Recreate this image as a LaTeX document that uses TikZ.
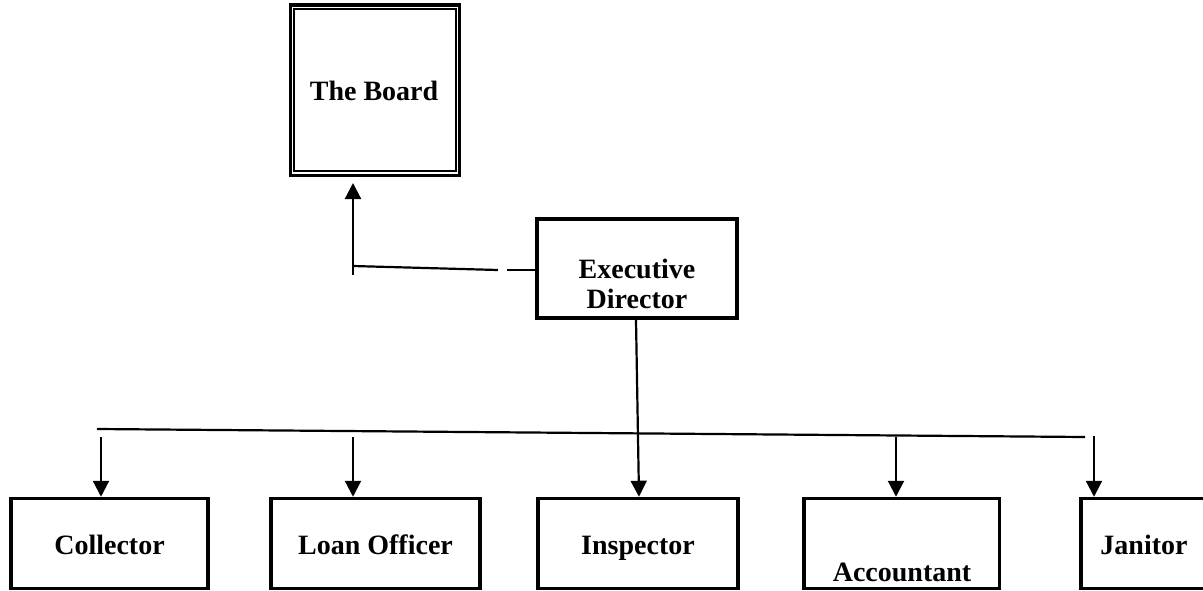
\documentclass[tikz,border=0pt]{standalone}
\usepackage{fontspec}
\setmainfont{Liberation Serif}
\usetikzlibrary{arrows.meta,calc}
\begin{document}
\begin{tikzpicture}[x=1pt,y=-1pt,
  box/.style={draw,line width=3.5pt,inner sep=0pt},
  lbl/.style={font=\fontsize{28}{32}\selectfont\bfseries,inner sep=0pt,anchor=base},
  conn/.style={line width=2.2pt},
  arr/.style={line width=2.2pt,-{Triangle[length=16pt,width=16pt]}}]
\useasboundingbox (0,0) rectangle (1203,590);
% The Board (thick-thin double border)
\node[box,minimum width=169,minimum height=170.5] (board) at (375,90.25) {};
\draw[line width=1.6pt] ($(board.north west)+(5.5,5.5)$) rectangle ($(board.south east)+(-5.5,-6)$);
\node[lbl] (boardt) at (374,100) {The Board};
% Executive Director
\node[box,minimum width=200,minimum height=99] (ED) at (637,268.5) {};
\node[lbl] (edt1) at (637,278) {Executive};
\node[lbl] (edt2) at (637,308) {Director};
% bottom row
\node[box,minimum width=197,minimum height=90] (collector) at (109.5,543.5) {};
\node[box,minimum width=209,minimum height=90] (loan) at (375.5,543.5) {};
\node[box,minimum width=200,minimum height=90] (inspector) at (638,543.5) {};
\node[box,minimum width=195.5,minimum height=90] (accountant) at (901.75,543.5) {};
\node[box,minimum width=126,minimum height=90] (janitor) at (1144,543.5) {};
\node[lbl] (collectort) at (109.5,554) {Collector};
\node[lbl] (loant) at (375.5,554) {Loan Officer};
\node[lbl] (inspectort) at (638,554) {Inspector};
\node[lbl] (accountantt) at (902,581) {Accountant};
\node[lbl] (janitort) at (1144,554) {Janitor};
% connector ED -> Board
\coordinate (dashend) at (507,270);
\coordinate (lineend) at (498,270);
\coordinate (bend) at (353,266);
\coordinate (tail) at (353,275);
\coordinate (tip) at (353,183);
\draw[conn] (ED.west |- dashend) -- (dashend);
\draw[conn] (lineend) -- (bend);
\draw[arr] (tail) -- (tip);
% ED -> Inspector
\draw[arr] ($(ED.south)+(-1,0)$) -- ($(inspector.north)+(1,0)$);
% bus line
\coordinate (busL) at (97,429);
\coordinate (busR) at (1085,437);
\draw[conn] (busL) -- (busR);
\coordinate (c1) at (101,437);
\coordinate (c2) at (353,437);
\coordinate (c4) at (896,437);
\coordinate (c5) at (1094,436);
\draw[arr] (c1) -- (c1 |- collector.north);
\draw[arr] (c2) -- (c2 |- loan.north);
\draw[arr] (c4) -- (c4 |- accountant.north);
\draw[arr] (c5) -- (c5 |- janitor.north);
\end{tikzpicture}
\end{document}
